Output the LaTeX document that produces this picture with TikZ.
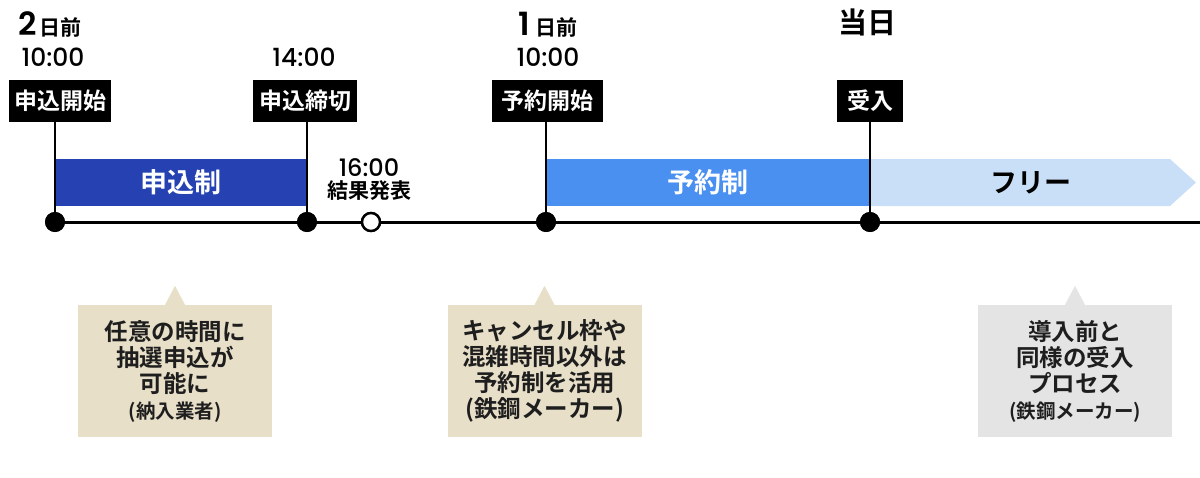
\documentclass[tikz,border=0pt]{standalone}
\usepackage{fontspec}
\setmainfont{Noto Sans CJK JP}[BoldFont=* Bold]
\newfontfamily\digits{Poppins}[UprightFont=* Medium,BoldFont=* SemiBold]
\usetikzlibrary{positioning}

\definecolor{applyblue}{HTML}{2541B2}
\definecolor{reserveblue}{HTML}{4A90F0}
\definecolor{freeblue}{HTML}{C9DFF7}
\definecolor{notebeige}{HTML}{E8DFC8}
\definecolor{notegray}{HTML}{E4E4E4}
\definecolor{notetext}{HTML}{1E1E1E}

\begin{document}
\begin{tikzpicture}[x=1pt,y=-1pt,
   tag/.style={fill=black,text=white,font=\bfseries\fontsize{23}{23}\selectfont,
               minimum height=42pt,inner xsep=3pt,inner ysep=0pt},
   dot/.style={circle,fill=black,inner sep=0pt,minimum size=20pt},
   opendot/.style={circle,draw=black,line width=2.4pt,fill=white,inner sep=0pt,minimum size=18pt},
   phase/.style={minimum height=47pt,inner sep=0pt,font=\bfseries\fontsize{27}{27}\selectfont},
   clock/.style={font=\digits\fontsize{25}{25}\selectfont,inner sep=0pt},
   day/.style={inner sep=0pt,anchor=base},
   note/.style={minimum width=194pt,minimum height=132pt,align=center,text=notetext,
                font=\bfseries\fontsize{23.5}{26}\selectfont,inner sep=0pt}]
   \useasboundingbox (0,0) rectangle (1200,477);

   % phases
   \node[phase,fill=applyblue,text=white,minimum width=252pt] (p0) at (181,182.5) {申込制};
   \node[phase,fill=reserveblue,text=white,minimum width=324pt] (p1) at (708,182.5) {予約制};
   \fill[freeblue] (870,159) -- (1170,159) -- (1196,182.5) -- (1170,206) -- (870,206) -- cycle;
   \node[phase,text=black] (p2) at (1031,182.5) {フリー};

   % points on the time line
   \node[dot] (d0) at (55,222) {};
   \node[dot] (d1) at (307,222) {};
   \node[opendot] (d2) at (371,222) {};
   \node[dot] (d3) at (546,222) {};
   \node[dot] (d4) at (870,222) {};
   \coordinate (end) at (1200,222);

   \node[tag,minimum width=102pt] (t0) at (60,101) {申込開始};
   \node[tag,minimum width=104pt] (t1) at (305,101) {申込締切};
   \node[tag,minimum width=111pt] (t3) at (547.5,101) {予約開始};
   \node[tag,minimum width=66pt] (t4) at (870,101) {受入};

   \draw[line width=3pt] (d0.center) -- (end);
   \draw[line width=1.2pt] (t0.south -| d0) -- (d0.center);
   \draw[line width=1.2pt] (t1.south -| d1) -- (d1.center);
   \draw[line width=1.2pt] (t3.south -| d3) -- (d3.center);
   \draw[line width=1.2pt] (t4.south -| d4) -- (d4.center);
   \node[dot] at (d0) {};
   \node[dot] at (d1) {};
   \node[opendot] at (d2) {};
   \node[dot] at (d3) {};
   \node[dot] at (d4) {};

   % dates and times
   \node[day,anchor=base west] (w0) at (18,35)
      {{\digits\bfseries\fontsize{32}{32}\selectfont 2}\hspace{3pt}{\bfseries\fontsize{21}{21}\selectfont 日前}};
   \node[clock,anchor=base] (c0) at (53,66) {10:00};
   \node[clock,anchor=base] (c1) at (304,66) {14:00};
   \node[align=center,inner sep=0pt,anchor=base,font=\fontsize{21}{22}\selectfont] (r2) at (369,198)
      {{\digits\fontsize{24}{24}\selectfont 16:00}\\[0pt]{\bfseries 結果発表}};
   \node[day] (w3) at (548,35)
      {{\digits\bfseries\fontsize{32}{32}\selectfont 1}\hspace{6pt}{\bfseries\fontsize{21}{21}\selectfont 日前}};
   \node[clock,anchor=base] (c3) at (548,66) {10:00};
   \node[day,font=\bfseries\fontsize{29}{29}\selectfont] (w4) at (867,33) {当日};

   % notes
   \node[note,fill=notebeige] (n0) at (175,371)
      {任意の時間に\\抽選申込が\\可能に\\{\fontsize{19.5}{22}\selectfont(納入業者)}};
   \node[note,fill=notebeige] (n1) at (544.5,371)
      {キャンセル枠や\\混雑時間以外は\\予約制を活用\\(鉄鋼メーカー)};
   \node[note,fill=notegray] (n2) at (1075,371)
      {導入前と\\同様の受入\\プロセス\\{\fontsize{19.5}{22}\selectfont(鉄鋼メーカー)}};
   \fill[notebeige] ([xshift=-10pt]n0.north) -- ([yshift=19pt]n0.north) -- ([xshift=10pt]n0.north) -- cycle;
   \fill[notebeige] ([xshift=-10pt]n1.north) -- ([yshift=19pt]n1.north) -- ([xshift=10pt]n1.north) -- cycle;
   \fill[notegray] ([xshift=-10pt]n2.north) -- ([yshift=19pt]n2.north) -- ([xshift=10pt]n2.north) -- cycle;
\end{tikzpicture}
\end{document}
